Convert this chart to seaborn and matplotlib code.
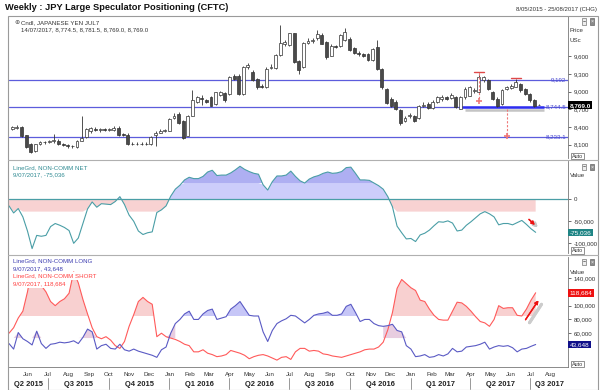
import matplotlib
matplotlib.use("Agg")
import matplotlib.dates as mdates
import matplotlib.pyplot as plt
from matplotlib.lines import Line2D
from matplotlib.patches import Rectangle
import numpy as np
import pandas as pd
import seaborn as sns

# ---- data ----
price_dates = pd.date_range("2015-05-08", periods=115, freq="7D")   # weekly candles
cot_dates = pd.date_range("2015-05-03", periods=115, freq="7D")     # CFTC weeks

opens = [8370, 8390, 8400, 8260, 8120, 7990, 8120, 8150, 8140, 8160,
         8170, 8110, 8100, 8080, 8060, 8170, 8230, 8330, 8370, 8350,
         8360, 8350, 8350, 8390, 8280, 8270, 8120, 8110, 8120, 8110,
         8110, 8270, 8300, 8340, 8340, 8550, 8620, 8500, 8250, 8590,
         8820, 8890, 8860, 8900, 8790, 8950, 8970, 8960, 9270, 9270,
         8960, 9420, 9330, 9210, 9100, 9080, 9400, 9400, 9620, 9810,
         9790, 9990, 9510, 9410, 9830, 9860, 9900, 9960, 9840, 9610,
         9770, 9770, 9870, 9890, 9730, 9660, 9630, 9640, 9540, 9760,
         9390, 9050, 8870, 8820, 8680, 8500, 8580, 8590, 8560, 8760,
         8790, 8730, 8830, 8880, 8900, 8890, 8900, 8710, 8900, 8930,
         9010, 8990, 9190, 9190, 8990, 8880, 8790, 9040, 9060, 9080,
         9130, 9050, 8960, 8850, 8774.5]
highs = [8420, 8430, 8420, 8270, 8130, 8120, 8170, 8170, 8180, 8280,
         8190, 8130, 8120, 8100, 8180, 8590, 8390, 8400, 8400, 8390,
         8390, 8390, 8410, 8410, 8300, 8290, 8140, 8140, 8140, 8150,
         8250, 8340, 8360, 8370, 8560, 8640, 8650, 8520, 8600, 9020,
         8920, 8940, 8880, 8920, 9000, 9010, 8990, 9260, 9300, 9290,
         9440, 9480, 9360, 9230, 9120, 9410, 9460, 9640, 10130, 9880,
         10000, 10000, 9530, 9840, 9900, 9900, 10040, 9990, 9860, 9800,
         9790, 9970, 10070, 9920, 9760, 9680, 9660, 9660, 9740, 9880,
         9400, 9060, 8900, 8860, 8700, 8580, 8630, 8610, 8780, 8820,
         8830, 8850, 8920, 8940, 8930, 8970, 8920, 8920, 9070, 9090,
         9060, 9320, 9270, 9210, 9010, 8900, 9040, 9090, 9130, 9220,
         9150, 9060, 8980, 8870, 8781.5]
lows = [8350, 8370, 8230, 8050, 7960, 7970, 8100, 8120, 8130, 8130,
        8100, 8070, 8050, 8040, 8050, 8160, 8210, 8300, 8330, 8320,
        8330, 8330, 8340, 8250, 8240, 8100, 8090, 8100, 8090, 8100,
        8100, 8080, 8290, 8320, 8330, 8530, 8450, 8200, 8240, 8580,
        8800, 8780, 8810, 8750, 8780, 8930, 8830, 8950, 9200, 8950,
        8950, 9380, 9180, 9050, 9060, 9060, 9380, 9380, 9600, 9780,
        9780, 9480, 9300, 9400, 9800, 9830, 9880, 9800, 9560, 9600,
        9740, 9760, 9860, 9680, 9640, 9600, 9590, 9510, 9520, 9370,
        9050, 8790, 8740, 8690, 8440, 8490, 8560, 8490, 8540, 8740,
        8700, 8710, 8800, 8840, 8850, 8870, 8720, 8700, 8880, 8920,
        8980, 8980, 9170, 9030, 8860, 8740, 8780, 9020, 9040, 9070,
        9000, 8940, 8830, 8740, 8769.0]
closes = [8400, 8405, 8250, 8060, 7980, 8110, 8150, 8140, 8160, 8180,
          8110, 8100, 8080, 8070, 8170, 8220, 8370, 8380, 8350, 8360,
          8350, 8360, 8390, 8270, 8260, 8120, 8110, 8120, 8110, 8120,
          8230, 8290, 8340, 8350, 8540, 8580, 8460, 8220, 8590, 8850,
          8900, 8870, 8830, 8760, 8990, 8990, 8850, 9240, 9220, 8960,
          9420, 9450, 9190, 9070, 9080, 9390, 9420, 9620, 9820, 9840,
          9990, 9500, 9360, 9820, 9860, 9870, 9980, 9810, 9590, 9780,
          9760, 9950, 10010, 9700, 9650, 9630, 9610, 9530, 9720, 9390,
          9070, 8810, 8760, 8710, 8460, 8560, 8610, 8510, 8760, 8780,
          8720, 8830, 8900, 8910, 8880, 8950, 8740, 8900, 9050, 9070,
          9020, 9245, 9245, 9050, 8880, 8760, 9020, 9070, 9100, 9160,
          9020, 8960, 8850, 8760, 8769.0]

# non-commercial positions, thousands of contracts
long_k = [45, 37, 61, 52, 48, 43, 63, 45, 38, 44,
          45, 47, 46, 47, 49, 45, 54, 66, 62, 37,
          42, 44, 38, 37, 44, 36, 34, 37, 34, 32,
          30, 28, 25, 36, 40, 60, 74, 80, 88, 92,
          80, 80, 88, 93, 95, 80, 82, 84, 95, 100,
          106, 96, 86, 85, 85, 62, 48, 64, 74, 78,
          81, 86, 85, 80, 75, 80, 86, 88, 89, 91,
          86, 86, 88, 99, 102, 90, 77, 80, 80, 74,
          71, 70, 71, 73, 64, 62, 42, 37, 26, 27,
          29, 25, 26, 29, 27, 30, 38, 33, 34, 40,
          41, 42, 44, 47, 37, 40, 42, 41, 42, 39,
          33, 37, 38, 41, 43.648]
short_k = [60, 68, 82, 92, 120, 155, 145, 129, 120, 106,
           100, 106, 110, 118, 149, 133, 109, 88, 68, 55,
           52, 55, 50, 42, 38, 48, 70, 87, 106, 112,
           106, 102, 55, 60, 55, 53, 51, 48, 44, 42,
           33, 33, 36, 31, 29, 26, 27, 29, 35, 33,
           31, 28, 23, 26, 28, 29, 27, 24, 21, 25,
           26, 22, 33, 38, 38, 34, 35, 34, 30, 29,
           27, 26, 25, 27, 29, 31, 33, 36, 37, 37,
           40, 47, 65, 90, 125, 138, 132, 126, 122, 108,
           106, 95, 86, 80, 79, 79, 92, 105, 104, 99,
           92, 84, 77, 75, 70, 80, 100, 96, 97, 97,
           86, 85, 95, 108, 118.684]

levels = [9192, 8744.5, 8233.1]
level_labels = ["9,192", "8,744.5", "8,233.1"]
neckline = 8744.5

price_ticks = [8100, 8400, 8700, 9000, 9300, 9600]
net_ticks = [-100000, -50000, 0]
pos_ticks = [60000, 80000, 100000, 140000]

month_starts = pd.date_range("2015-06-01", "2017-08-01", freq="MS")
quarter_starts = pd.date_range("2015-04-01", "2017-07-01", freq="QS")
quarter_labels = ["Q2 2015", "Q3 2015", "Q4 2015", "Q1 2016", "Q2 2016",
                  "Q3 2016", "Q4 2016", "Q1 2017", "Q2 2017", "Q3 2017"]

# ---- style ----
sns.set_style("white")
plt.rcParams["font.family"] = ["Liberation Sans", "DejaVu Sans"]

W, H = 600, 390
NET_C = "#4a9ea6"
LONG_C = "#5a5ac4"
SHORT_C = "#ff5a5a"
LEVEL_C = "#5c5cdc"
FRAME_C = "#9a9a9a"


def rect(x0, y0, x1, y1):
    return [x0 / W, 1 - y1 / H, (x1 - x0) / W, (y1 - y0) / H]


def fx(px):
    return px / W


def fy(py):
    return 1 - py / H


fig = plt.figure(figsize=(6, 3.9), dpi=100)
fig.patch.set_facecolor("white")

ax1 = fig.add_axes(rect(9, 16, 568, 158))
ax2 = fig.add_axes(rect(9, 161, 568, 253))
ax3 = fig.add_axes(rect(9, 257, 568, 367))

px_ = mdates.date2num(price_dates)
cx = mdates.date2num(cot_dates)
xlim = (mdates.date2num(pd.Timestamp("2015-05-03")),
        mdates.date2num(pd.Timestamp("2017-08-27")))

# ---- price panel: candles ----
o = np.array(opens)
c = np.array(closes)
up = c >= o
body_lo = np.minimum(o, c)
body_h = np.maximum(np.abs(c - o), 10)

for lvl in levels:
    ax1.axhline(lvl, color=LEVEL_C, lw=0.9, zorder=1)

ax1.vlines(px_, lows, highs, color="#333333", lw=0.6, zorder=3)
ax1.bar(px_[up], body_h[up], bottom=body_lo[up], width=4.4,
        color="white", edgecolor="#333333", linewidth=0.5, zorder=4)
ax1.bar(px_[~up], body_h[~up], bottom=body_lo[~up], width=4.4,
        color="#4a4a4a", edgecolor="#333333", linewidth=0.5, zorder=4)

# neckline highlight with shadow
end_x = px_[-1] + 7
ax1.plot([px_[98], end_x], [neckline - 60, neckline - 60], color="#c4c4c4",
         lw=1.8, zorder=2, solid_capstyle="butt")
ax1.plot([px_[97], end_x], [neckline, neckline], color="#2d2df0", lw=1.8,
         zorder=2, solid_capstyle="butt")

# double top marks and measured move
for j in (101, 109):
    ax1.plot([px_[j - 1] - 1, px_[j + 1] + 1], [highs[j] + 15] * 2,
             color="#e04848", lw=1.0, zorder=5)
ax1.plot([px_[101], px_[101]], [highs[101], neckline + 90], ls=(0, (2, 1.5)),
         color="#f07878", lw=0.8, zorder=5)
ax1.plot(px_[101], neckline + 90, marker="+", ms=4, mew=1.2,
         color="#f07878", zorder=5)
ax1.plot([px_[107], px_[107]], [neckline - 40, levels[2]], ls=(0, (2, 1.5)),
         color="#f07878", lw=0.8, zorder=5)
ax1.plot(px_[107], levels[2] + 20, marker="+", ms=4, mew=1.2,
         color="#f07878", zorder=5)

for lvl, lab in zip(levels, level_labels):
    ax1.text(0.997, lvl, lab, transform=ax1.get_yaxis_transform(),
             ha="right", va="center", fontsize=4.4, color="#4a4ad0", zorder=6)

ax1.set_ylim(7875, 10280)
ax1.set_yticks(price_ticks)
ax1.set_yticklabels([f"{v:,}" for v in price_ticks])
for t in ax1.get_yticklabels():
    if t.get_text() == "9,000":
        t.set_fontsize(5.6)
        t.set_fontweight("bold")

ax1.text(1.003, closes[-1], f"{closes[-1]:,.1f}",
         transform=ax1.get_yaxis_transform(), ha="left", va="center",
         fontsize=4.6, color="white", fontweight="bold",
         bbox=dict(facecolor="black", edgecolor="none", pad=0.9), zorder=10,
         clip_on=False)

# ---- net panel ----
net = (np.array(long_k) - np.array(short_k)) * 1000
ax2.fill_between(cx, 0, np.maximum(net, -28000), where=net < 0,
                 interpolate=True, color="#f8d2d2", lw=0, zorder=1)
ax2.fill_between(cx, 0, np.minimum(net, 37000), where=net > 0,
                 interpolate=True, color="#cccdfb", lw=0, zorder=1)
ax2.fill_between(cx, 37000, net, where=net > 37000,
                 interpolate=True, color="#aeaff2", lw=0, zorder=1)
ax2.axhline(0, color=NET_C, lw=0.9, zorder=2)
sns.lineplot(x=cx, y=net, ax=ax2, color=NET_C, linewidth=0.8, zorder=3)
ax2.set_ylim(-122000, 87000)
ax2.set_yticks(net_ticks)
ax2.set_yticklabels([f"{v:,}" for v in net_ticks])
ax2.text(1.003, net[-1], f"{net[-1]:,.0f}", transform=ax2.get_yaxis_transform(),
         ha="left", va="center", fontsize=4.6, color="white",
         bbox=dict(facecolor="#1f8585", edgecolor="none", pad=0.9),
         zorder=10, clip_on=False)

# ---- long / short panel ----
lng = np.array(long_k) * 1000
sht = np.array(short_k) * 1000
ax3.fill_between(cx, 85000, sht, where=sht > 85000, interpolate=True,
                 color="#f8d0d0", lw=0, zorder=1)
ax3.fill_between(cx, 85000, lng, where=lng > 85000, interpolate=True,
                 color="#c6c6f7", lw=0, zorder=1)
ax3.fill_between(cx, 53000, np.clip(lng, 53000, 85000), where=net < 30000,
                 color="#e8cde0", lw=0, zorder=1)
sns.lineplot(x=cx, y=sht, ax=ax3, color=SHORT_C, linewidth=0.8, zorder=3)
sns.lineplot(x=cx, y=lng, ax=ax3, color=LONG_C, linewidth=0.8, zorder=3)
ax3.set_ylim(11000, 170600)
ax3.set_yticks(pos_ticks)
ax3.set_yticklabels([f"{v:,}" for v in pos_ticks])
ax3.text(1.003, sht[-1], f"{sht[-1]:,.0f}", transform=ax3.get_yaxis_transform(),
         ha="left", va="center", fontsize=4.6, color="white",
         bbox=dict(facecolor="#ee1111", edgecolor="none", pad=0.9),
         zorder=10, clip_on=False)
ax3.text(1.003, lng[-1], f"{lng[-1]:,.0f}", transform=ax3.get_yaxis_transform(),
         ha="left", va="center", fontsize=4.6, color="white",
         bbox=dict(facecolor="#10108a", edgecolor="none", pad=0.9),
         zorder=10, clip_on=False)

# ---- common axes styling ----
for ax in (ax1, ax2, ax3):
    ax.set_xlim(*xlim)
    ax.set_xlabel("")
    ax.set_ylabel("")
    ax.yaxis.tick_right()
    ax.tick_params(axis="y", labelsize=4.4, length=2.5, width=0.5, pad=1.5,
                   colors="#333333")
    for s in ("left", "top", "bottom"):
        ax.spines[s].set_visible(False)
    ax.spines["right"].set_color("#777777")
    ax.spines["right"].set_linewidth(0.6)
    ax.grid(False)
    ax.set_facecolor("white")

for ax in (ax1, ax2):
    ax.set_xticks([])

month_x = mdates.date2num(month_starts)
ax3.set_xticks(month_x)
ax3.set_xticklabels([])
ax3.tick_params(axis="x", length=2, width=0.5, colors="#666666")
ax3.spines["bottom"].set_visible(True)
ax3.spines["bottom"].set_color("#777777")
ax3.spines["bottom"].set_linewidth(0.6)

xt = ax3.get_xaxis_transform()
for m, mx in zip(month_starts, month_x):
    ax3.text(mx, -0.07, m.strftime("%b"), transform=xt, ha="center",
             va="center", fontsize=4.5, color="#333333")

q_x = mdates.date2num(quarter_starts)
for k, lab in enumerate(quarter_labels):
    q0 = max(q_x[k], xlim[0])
    q1 = min(mdates.date2num(quarter_starts[k] + pd.offsets.QuarterBegin(startingMonth=1)), xlim[1])
    ax3.text((q0 + q1) / 2, -0.155, lab, transform=xt, ha="center",
             va="center", fontsize=5.4, fontweight="bold", color="#222222")
    if k > 0:
        ax3.plot([q_x[k], q_x[k]], [-0.1, -0.2], transform=xt, color="#888888",
                 lw=0.6, clip_on=False)

# ---- frame, dividers ----
fig.add_artist(Rectangle((fx(8), fy(389.5)), fx(598) - fx(8), fy(15.5) - fy(389.5),
                         transform=fig.transFigure, fill=False,
                         edgecolor=FRAME_C, lw=0.8))
for yy in (159.5, 255):
    fig.add_artist(Line2D([fx(8), fx(598)], [fy(yy), fy(yy)],
                          transform=fig.transFigure, color="#b0b0b0", lw=0.8))

# ---- texts ----
fig.text(fx(5), fy(8), "Weekly : JPY Large Speculator Positioning (CFTC)",
         fontsize=6.7, fontweight="bold", va="center", color="#111111")
fig.text(fx(597), fy(9.5), "8/05/2015 - 25/08/2017 (CHG)", fontsize=4.3,
         ha="right", va="center", color="#333333")

fig.text(fx(14), fy(22.5), "\u2295", fontsize=4.5, va="center", color="#555555")
fig.text(fx(21), fy(22.5), "Cndl, JAPANESE YEN JUL7", fontsize=4.4,
         va="center", color="#333333")
fig.text(fx(21), fy(30), "14/07/2017, 8,774.5, 8,781.5, 8,769.0, 8,769.0",
         fontsize=4.4, va="center", color="#333333")

fig.text(fx(13), fy(167.5), "LineGrd, NON-COMM NET", fontsize=4.4,
         va="center", color="#2f8a92")
fig.text(fx(13), fy(175), "9/07/2017, -75,036", fontsize=4.4,
         va="center", color="#2f8a92")

# legend block in the lower panel sits on a white backing that hides the line
lbox = dict(facecolor="white", edgecolor="none", pad=1.3)
fig.text(fx(13), fy(261), "LineGrd, NON-COMM LONG", fontsize=4.4,
         va="center", color="#3c3cb0", bbox=lbox)
fig.text(fx(13), fy(268.5), "9/07/2017, 43,648", fontsize=4.4,
         va="center", color="#3c3cb0", bbox=lbox)
fig.text(fx(13), fy(276), "LineGrd, NON-COMM SHORT", fontsize=4.4,
         va="center", color="#ff4040", bbox=lbox)
fig.text(fx(13), fy(283.5), "9/07/2017, 118,684", fontsize=4.4,
         va="center", color="#ff4040", bbox=lbox)

for yy, lab in ((30, "Price"), (40, "USc"), (176, "Value"), (272, "Value")):
    fig.text(fx(570), fy(yy), lab, fontsize=4.4, va="center", color="#333333")

abox = dict(facecolor="white", edgecolor="#666666", lw=0.5, pad=0.6)
for yy in (156, 250.5, 364):
    fig.text(fx(572), fy(yy), "Auto", fontsize=3.9, va="center",
             color="#333333", bbox=abox)

for yy in (21.5, 167, 262):
    fig.text(fx(584), fy(yy), "\u2212", fontsize=3.8, va="center",
             ha="center", color="#333333",
             bbox=dict(facecolor="#eeeeee", edgecolor="#777777", lw=0.5, pad=0.4))
    fig.text(fx(592), fy(yy), "\u00d7", fontsize=3.8, va="center",
             ha="center", color="white",
             bbox=dict(facecolor="#8a8a8a", edgecolor="#666666", lw=0.5, pad=0.4))

# trend arrows
arr_shadow = dict(arrowstyle="-|>", color="#c8c8c8", lw=1.8, mutation_scale=5)
fig.add_artist(plt.annotate("", xy=(fx(540), fy(229.5)), xytext=(fx(530), fy(220)),
                            xycoords="figure fraction", arrowprops=arr_shadow))
fig.add_artist(plt.annotate("", xy=(fx(537), fy(227)), xytext=(fx(527), fy(217.5)),
                            xycoords="figure fraction",
                            arrowprops=dict(arrowstyle="-|>", color="#ee1111",
                                            lw=1.0, mutation_scale=5)))
fig.add_artist(plt.annotate("", xy=(fx(543), fy(302)), xytext=(fx(528), fy(325)),
                            xycoords="figure fraction",
                            arrowprops=dict(arrowstyle="-", color="#cccccc", lw=2.2)))
fig.add_artist(plt.annotate("", xy=(fx(540), fy(298)), xytext=(fx(524), fy(322)),
                            xycoords="figure fraction",
                            arrowprops=dict(arrowstyle="-|>", color="#ee1111",
                                            lw=1.0, mutation_scale=5)))

fig.savefig("out.png", dpi=100, facecolor="white")
